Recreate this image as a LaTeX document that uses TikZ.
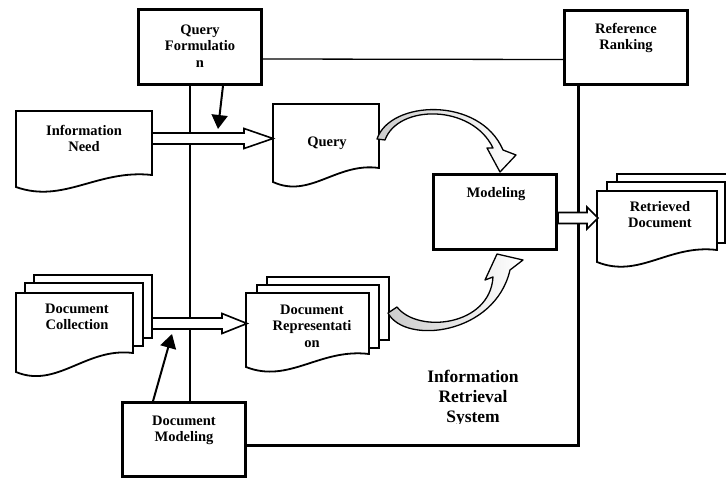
\documentclass[tikz,border=0pt]{standalone}
\usepackage{fontspec}
\setmainfont{Liberation Serif}
\usetikzlibrary{arrows.meta,calc}

\tikzset{
  box/.style={draw, line width=2.6pt, fill=white, inner sep=0pt},
  lbl/.style={font=\bfseries\fontsize{14.5}{16.5}\selectfont, align=center, inner sep=0pt},
  biglbl/.style={font=\bfseries\fontsize{17.5}{20}\selectfont, align=center, inner sep=0pt},
  doc/.style={draw, line width=1.8pt, fill=white, line join=miter},
  page/.style={draw, line width=1.8pt, fill=white},
  thinlink/.style={line width=1.3pt},
  thicklink/.style={line width=3pt},
  hollow/.style={draw, line width=1.6pt, fill=white, line join=miter},
  pointer/.style={line width=2pt, -{Triangle[length=14pt,width=16pt]}},
  bendarrow/.style={draw, line width=1.3pt, line join=round, left color=gray!40, right color=white}
}

% document outline with a wavy bottom: x1, ytop, x2, yleft, yright
\newcommand\docoutline[5]{(#1,#2) -- (#3,#2) -- (#3,#5)
  .. controls ({#1+0.6*(#3-#1)},{#5-6}) and ({#1+0.35*(#3-#1)},{#4+17}) .. (#1,#4) -- cycle}

% block arrow from coordinate #1 to tip #2: shaft half height, head half height, head length
\newcommand\blockarrow[5]{%
  \draw[hollow] ($(#1)+(0,-#3)$) -- ($(#2)+(-#5,-#3)$) -- ($(#2)+(-#5,-#4)$) -- (#2)
    -- ($(#2)+(-#5,#4)$) -- ($(#2)+(-#5,#3)$) -- ($(#1)+(0,#3)$) -- cycle;}

\begin{document}
\begin{tikzpicture}[x=1pt,y=-1pt]
\useasboundingbox[fill=white] (0,0) rectangle (726,479);

% process boxes
\node[box, minimum width=123pt, minimum height=75pt] (qf) at (200,47) {};
\node[box, minimum width=123pt, minimum height=74pt] (rr) at (626,47.5) {};
\node[box, minimum width=123pt, minimum height=74pt] (dm) at (184,439.5) {};

% system frame lines
\draw[thinlink] ($(qf.east)+(0,12)$) -- ($(rr.west)+(0,12)$);
\draw[thinlink] ($(qf.south)+(-10,0)$) -- ($(dm.north)+(6,0)$);
\coordinate (corner) at (578,445);
\draw[thicklink] ($(rr.south)+(-48,0)$) -- (corner) -- (corner -| dm.east);

% redraw boxes over line ends
\node[box, minimum width=123pt, minimum height=75pt] at (qf) {};
\node[box, minimum width=123pt, minimum height=74pt] at (rr) {};
\node[box, minimum width=123pt, minimum height=74pt] at (dm) {};
\node[box, minimum width=123pt, minimum height=75pt] (mod) at (495,212) {};

% single documents
\draw[doc] \docoutline{16}{111}{152}{187}{175};
\draw[doc] \docoutline{273}{104}{379}{182}{168};

% document stacks
\draw[page] (34,275) rectangle (152,338);
\draw[page, line width=2.6pt] (25,283) rectangle (143,346);
\draw[doc] \docoutline{16}{293}{133}{372}{353};

\draw[page] (267,277) rectangle (389,340);
\draw[page] (257,285) rectangle (379,348);
\draw[doc] \docoutline{246}{293}{369}{367}{354};

\draw[page] (617,174) rectangle (735,235);
\draw[page] (607,182) rectangle (725,243);
\draw[doc] \docoutline{597}{191}{717}{262}{250};

% connection points on document edges
\coordinate (needR) at (152,138.5);
\coordinate (queryL) at (273,138.5);
\coordinate (collR) at (152,323.5);
\coordinate (repL) at (247,323.5);
\coordinate (modR) at (558,218);
\coordinate (retrL) at (598,218);

% block arrows
\blockarrow{needR}{queryL}{5.5}{10}{29}
\blockarrow{collR}{repL}{5.5}{10}{25}
\blockarrow{modR}{retrL}{5.5}{11}{11}

% control arrows
\coordinate (qfTip) at (218,129);
\coordinate (dmTip) at (172,334);
\draw[pointer] ($(qf.south)+(23,0)$) -- (qfTip);
\draw[pointer] ($(dm.north)+(-31,0)$) -- (dmTip);

% curved arrows into the modeling step
\draw[bendarrow] (377,139) .. controls (390,100) and (480,96) .. (503,150)
  -- (516,155) -- (500,172) -- (487,148) -- (493,148)
  .. controls (472,104) and (398,104) .. (385,140) -- cycle;
\draw[bendarrow] (388,313) .. controls (405,345) and (495,335) .. (510,270)
  -- (523,260) -- (497,254) -- (485,280) -- (493,277)
  .. controls (490,326) and (418,334) .. (397,307) -- cycle;

% labels
\node[lbl] (qft) at (200,46) {Query\\Formulatio\\n};
\node[lbl] (rrt) at (626,38) {Reference\\Ranking};
\node[lbl] (needt) at (84,138.5) {Information\\Need};
\node[lbl] (queryt) at (327,143) {Query};
\node[lbl] (modt) at (496,194) {Modeling};
\node[lbl] (retrt) at (660,214.5) {Retrieved\\Document};
\node[lbl] (collt) at (77,317) {Document\\Collection};
\node[lbl] (rept) at (312,326) {Document\\Representati\\on};
\node[lbl] (dmt) at (184,430.5) {Document\\Modeling};
% the label's text box is cut off just below its last baseline
\begin{scope}
  \clip (380,350) rectangle (570,423.5);
  \node[biglbl, text depth=0pt, anchor=south] (irs) at (473,423) {Information\\Retrieval\\System};
\end{scope}
\end{tikzpicture}
\end{document}
